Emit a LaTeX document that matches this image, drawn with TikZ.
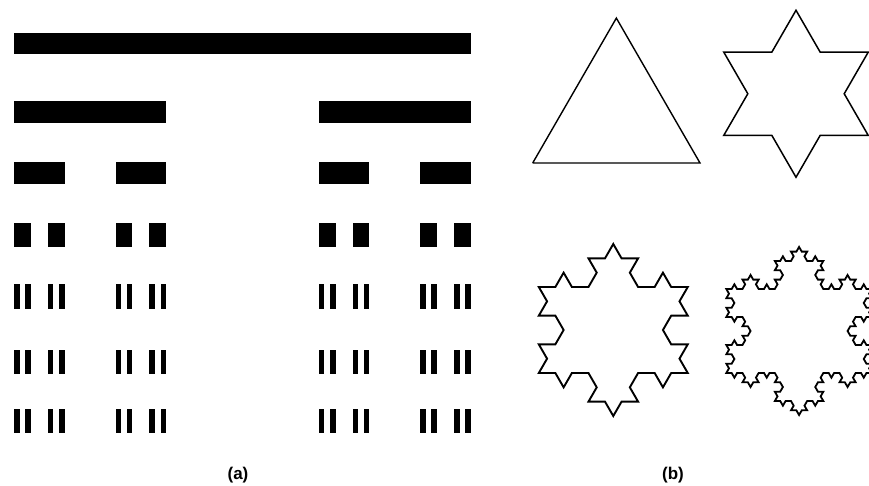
\documentclass[tikz,border=0pt]{standalone}
\usepackage{fontspec}
\setsansfont{Liberation Sans}
\usetikzlibrary{lindenmayersystems}
\pgfdeclarelindenmayersystem{koch}{\rule{F -> F-F++F-F}}
\tikzset{
  bar/.style={fill=black},
  flake/.style={draw=black, line width=1.4pt, line join=miter},
  caption/.style={font=\sffamily\bfseries\fontsize{17}{19}\selectfont, inner sep=0pt}
}

\begin{document}
\begin{tikzpicture}[x=1pt, y=-1pt]
  \useasboundingbox (0,0) rectangle (869,486);

  \foreach \lev/\ytop/\barh in {0/33/21, 1/101/22, 2/162/22, 3/223/24, 4/284/25, 4/350/24, 4/409/24} {
    \pgfmathtruncatemacro\nbar{2^\lev-1}
    \pgfmathsetmacro\w{457/3^\lev}
    \foreach \k in {0,...,\nbar} {
      \pgfmathtruncatemacro\kk{\k*2^(4-\lev)}
      \pgfmathsetmacro\xl{14+914*(mod(floor(\kk/8),2)/3+mod(floor(\kk/4),2)/9+mod(floor(\kk/2),2)/27+mod(\kk,2)/81)}
      \fill[bar] (\xl,\ytop) rectangle +(\w,\barh);
    }
  }

  \foreach \ord/\sx/\sy/\st/\lw in {0/532.7/163/167.3/1.4, 1/723.7/135.5/48.2/1.5, 2/538.8/373/16.55/1.9, 3/726.3/373/5.39/1.8} {
    \begin{scope}[shift={(\sx,\sy)}]
      \draw[flake, line width=\lw pt, l-system={koch, axiom=F++F++F, order=\ord, step=\st pt, angle=60}]
        (0,0) lindenmayer system -- cycle;
    \end{scope}
  }

  \node[caption] (capa) at (238,475) {(a)};
  \node[caption] (capb) at (673,475) {(b)};
\end{tikzpicture}
\end{document}
